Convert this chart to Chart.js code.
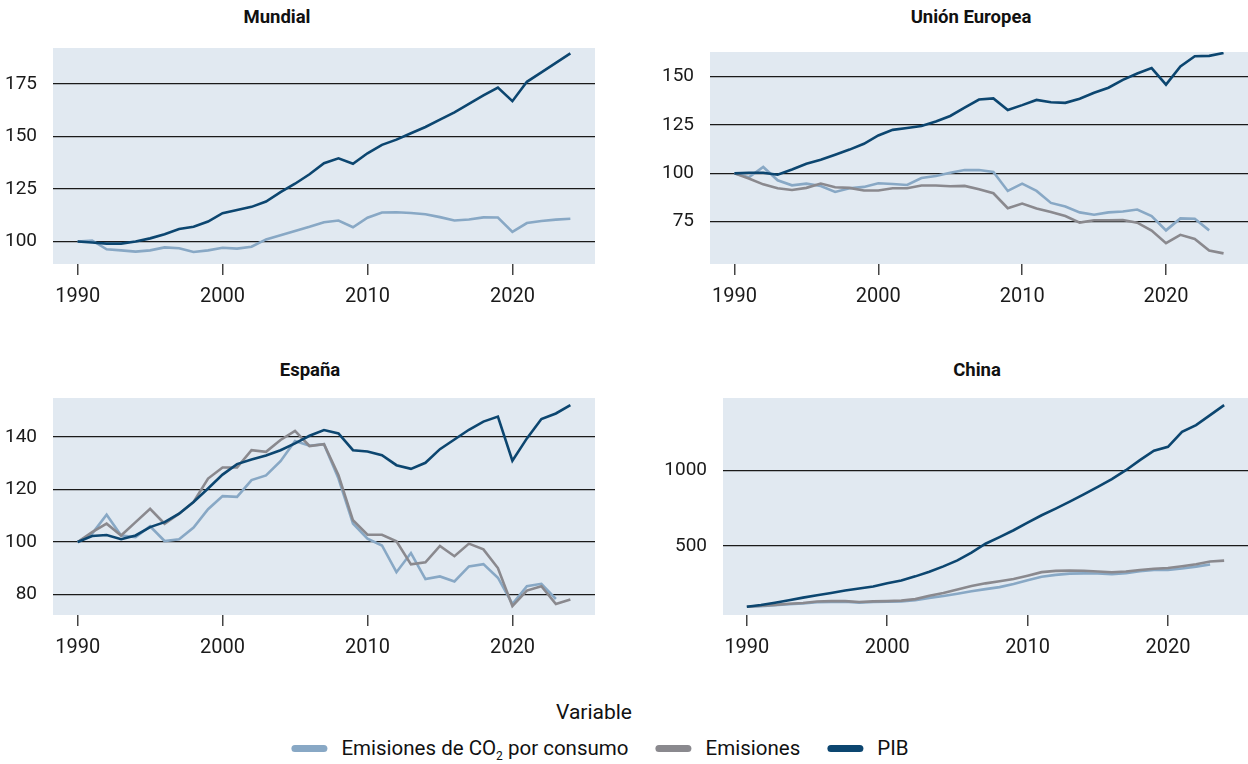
<!DOCTYPE html>
<html lang="es">
<head>
<meta charset="utf-8">
<script src="https://cdn.jsdelivr.net/npm/chart.js@4"></script>
<style>
  html, body { margin: 0; padding: 0; background: #fff; }
  body { width: 1248px; height: 764px; position: relative; overflow: hidden; font-family: Roboto, "Noto Sans", sans-serif; color: #111; }
  canvas { position: absolute; }
  .titulo { position: absolute; font-weight: bold; font-size: 18.5px; transform: translateX(-50%); white-space: nowrap; }
  #leyenda-titulo { position: absolute; left: 594px; top: 700px; transform: translateX(-50%); font-size: 21px; }
  #leyenda { position: absolute; left: 600px; top: 736px; transform: translateX(-50%); font-size: 20.5px; white-space: nowrap; }
  .item { display: inline-block; margin: 0 11px; }
  .swatch { display: inline-block; width: 36px; height: 7px; border-radius: 4px; vertical-align: middle; margin-right: 14px; position: relative; top: -1px; }
  sub { font-size: 12px; }
</style>
</head>
<body>
<div class="titulo" style="left:277px; top:6px;">Mundial</div>
<div class="titulo" style="left:971px; top:6px;">Unión Europea</div>
<div class="titulo" style="left:310px; top:359px;">España</div>
<div class="titulo" style="left:977px; top:359px;">China</div>

<canvas id="mundial" width="600" height="280" style="left:0; top:30px;"></canvas>
<canvas id="ue" width="608" height="280" style="left:640px; top:30px;"></canvas>
<canvas id="espana" width="600" height="281" style="left:0; top:380px;"></canvas>
<canvas id="china" width="608" height="281" style="left:640px; top:380px;"></canvas>

<div id="leyenda-titulo">Variable</div>
<div id="leyenda">
  <span class="item"><span class="swatch" style="background:#88a8c5"></span>Emisiones de CO<sub>2</sub> por consumo</span>
  <span class="item"><span class="swatch" style="background:#8a898e"></span>Emisiones</span>
  <span class="item"><span class="swatch" style="background:#0c4670"></span>PIB</span>
</div>

<script>
// años (1990-2024)
const years = [1990,1991,1992,1993,1994,1995,1996,1997,1998,1999,2000,2001,2002,2003,2004,2005,2006,2007,2008,2009,2010,2011,2012,2013,2014,2015,2016,2017,2018,2019,2020,2021,2022,2023,2024];
const xTicks = [1990, 2000, 2010, 2020];

// Mundial
const mundialPib = [100,99.5,99,99,100,101.5,103.5,106,107,109.5,113.5,115,116.5,119,123.5,127.5,132,137.3,139.6,137,142,146,148.5,151.5,154.5,158,161.5,165.5,169.5,173.3,166.8,176,180.5,185,189.5];
const mundialConsumo = [100,100.5,96.3,95.8,95.2,95.8,97.2,96.8,95,95.8,97,96.6,97.5,101,103,105,107,109.2,110,106.8,111.3,113.8,113.9,113.6,113,111.6,110,110.5,111.5,111.4,104.6,108.8,109.8,110.4,110.8];

// Unión Europea
const uePib = [100,100.3,100.3,99.3,102,105,107,109.6,112.3,115.3,119.6,122.5,123.5,124.5,126.8,129.7,134,138.2,138.8,132.8,135.3,138,136.8,136.5,138.6,141.7,144.3,148.4,151.7,154.5,145.9,155.3,160.6,160.8,162.3];
const ueEmisiones = [100,97.3,94.3,92.3,91.4,92.5,94.7,92.8,92.5,91.1,91.1,92.3,92.3,93.7,93.7,93.3,93.5,91.8,89.7,82,84.4,81.8,80,77.9,74.5,75.7,75.7,75.9,74.5,70.4,63.9,68.2,66.1,60.1,58.6];
const ueConsumo = [100,98,103.3,96.4,93.8,94.7,93.5,90.4,92.3,93,94.9,94.5,94,97.6,98.6,100.3,101.7,101.7,100.7,90.9,94.7,90.9,84.7,82.8,79.8,78.6,79.8,80.3,81.3,77.9,70.5,76.7,76.5,70.5,null];

// España
const espanaPib = [100,102.3,102.7,101.1,102.5,105.7,107.6,110.8,115.3,120.4,125.7,129.7,131.5,133,135,137.6,140.5,142.7,141.4,135,134.5,133.1,129.3,127.9,130.2,135.4,139.1,142.8,145.9,147.8,131,139.5,146.9,149,152.2];
const espanaEmisiones = [100,103.8,107,102.5,107.6,112.7,107,110.8,115.3,124.2,128.4,128.4,135,134.4,138.9,142.4,136.6,137.3,125.5,108.3,102.8,102.8,100.3,91.5,92.3,98.5,94.6,99.4,97.2,90.1,75.6,81.5,83.2,76.4,78.1];
const espanaConsumo = [100,103.2,110.4,102.5,101.9,106,100.4,101.1,105.5,112.5,117.5,117.2,123.6,125.4,130.8,138.5,136.7,137.3,124.2,107,101.3,98.7,88.5,95.8,85.9,86.9,85,90.7,91.6,86.4,76.4,83.2,84.1,78.3,null];

// China
const chinaPib = [100,111,126,142,160,175,190,207,220,233,255,273,300,330,366,405,456,515,559,604,654,703,747,793,841,890,941,1000,1066,1128,1154,1253,1297,1363,1429];
const chinaEmisiones = [100,106,112,119,124,134,137,137,131,135,137,140,150,172,190,214,236,254,268,282,304,328,336,338,337,332,327,332,342,350,355,367,380,398,404];
const chinaConsumo = [100,104,110,116,121,129,132,133,127,131,133,135,143,158,170,186,202,216,229,250,274,298,310,318,320,319,315,321,334,342,342,352,364,378,null];

// ejes y por panel
const mundialTicks = [100, 125, 150, 175];
const ueTicks = [75, 100, 125, 150];
const espanaTicks = [80, 100, 120, 140];
const chinaTicks = [500, 1000];

const colorConsumo = '#88a8c5';
const colorEmisiones = '#8a898e';
const colorPib = '#0c4670';

// fondo del panel
const fondoPanel = {
    id: 'fondoPanel',
    beforeDraw(chart) {
        const { ctx, chartArea: a } = chart;
        ctx.save();
        ctx.fillStyle = '#e1e9f1';
        ctx.fillRect(a.left, a.top, a.right - a.left, a.bottom - a.top);
        ctx.restore();
    }
};

function serie(label, values, color) {
    return {
        label: label,
        data: years.map((y, i) => ({ x: y, y: values[i] })),
        borderColor: color,
        borderWidth: 2.6,
        pointRadius: 0,
        tension: 0,
        fill: false,
        spanGaps: false
    };
}

function crearPanel(id, series, yTicks, yMin, yMax, yWidth, padTop, padRight) {
    const ctx = document.getElementById(id).getContext('2d');
    return new Chart(ctx, {
        type: 'line',
        data: { datasets: series },
        plugins: [fondoPanel],
        options: {
            responsive: false,
            animation: false,
            devicePixelRatio: 1,
            layout: { padding: { top: padTop, right: padRight, left: 0, bottom: 0 } },
            plugins: { legend: { display: false }, tooltip: { enabled: false }, title: { display: false } },
            scales: {
                x: {
                    type: 'linear',
                    min: 1988.3,
                    max: 2025.7,
                    afterBuildTicks: scale => { scale.ticks = xTicks.map(v => ({ value: v })); },
                    afterFit: scale => {
                        scale.height = 46;
                        scale.paddingLeft = 0;
                        scale.paddingRight = 0;
                    },
                    border: { display: false },
                    grid: { drawOnChartArea: false, drawTicks: true, tickLength: 11, color: '#444', lineWidth: 1.5 },
                    ticks: {
                        autoSkip: false,
                        maxRotation: 0,
                        padding: 10,
                        color: '#1a1a1a',
                        font: { family: 'Roboto', size: 20 },
                        callback: v => String(v)
                    }
                },
                y: {
                    min: yMin,
                    max: yMax,
                    afterBuildTicks: scale => { scale.ticks = yTicks.map(v => ({ value: v })); },
                    afterFit: scale => {
                        scale.width = yWidth;
                        scale.paddingTop = 0;
                        scale.paddingBottom = 0;
                    },
                    border: { display: false },
                    grid: { drawTicks: false, color: '#1a1a1a', lineWidth: 1.2 },
                    ticks: {
                        padding: 16,
                        color: '#1a1a1a',
                        font: { family: 'Roboto', size: 19 },
                        callback: v => String(v)
                    }
                }
            }
        }
    });
}

document.addEventListener('DOMContentLoaded', () => {
    // PIB primero para que quede encima
    crearPanel('mundial', [
        serie('PIB', mundialPib, colorPib),
        serie('Emisiones de CO2 por consumo', mundialConsumo, colorConsumo)
    ], mundialTicks, 89.3, 192.1, 53, 18, 5);

    crearPanel('ue', [
        serie('PIB', uePib, colorPib),
        serie('Emisiones', ueEmisiones, colorEmisiones),
        serie('Emisiones de CO2 por consumo', ueConsumo, colorConsumo)
    ], ueTicks, 53.1, 162.8, 70, 22, 0);

    crearPanel('espana', [
        serie('PIB', espanaPib, colorPib),
        serie('Emisiones', espanaEmisiones, colorEmisiones),
        serie('Emisiones de CO2 por consumo', espanaConsumo, colorConsumo)
    ], espanaTicks, 72.2, 154.9, 53, 18, 5);

    crearPanel('china', [
        serie('PIB', chinaPib, colorPib),
        serie('Emisiones', chinaEmisiones, colorEmisiones),
        serie('Emisiones de CO2 por consumo', chinaConsumo, colorConsumo)
    ], chinaTicks, 45.3, 1475.9, 83, 18, 0);
});
</script>
</body>
</html>
